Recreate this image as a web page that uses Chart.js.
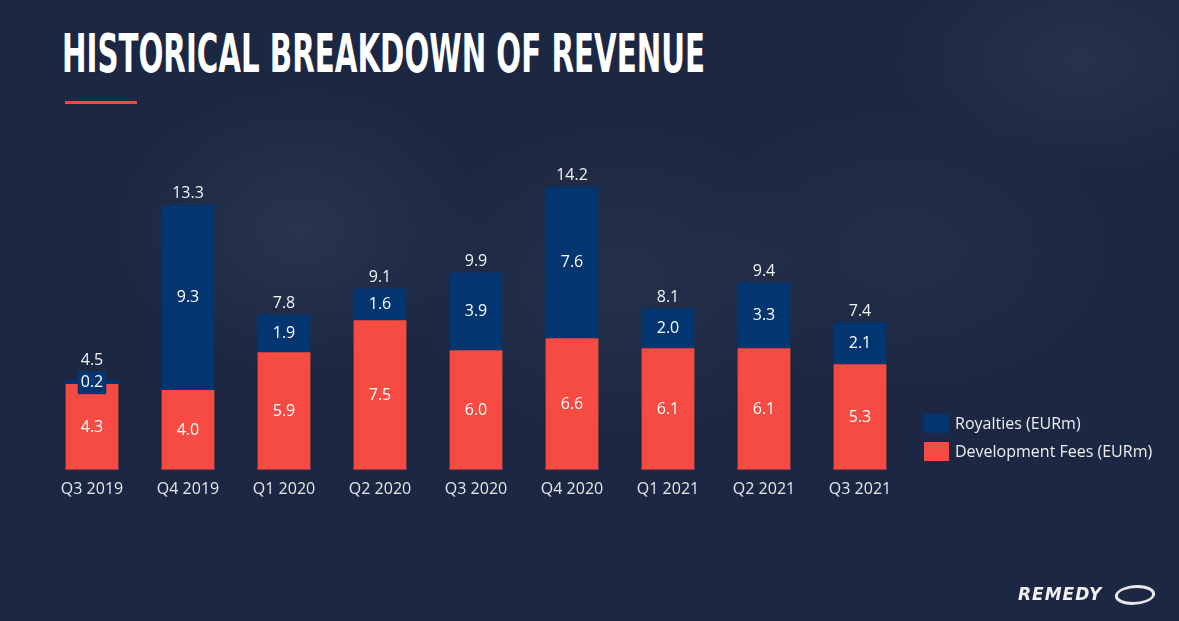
<!DOCTYPE html>
<html>
<head>
<meta charset="utf-8">
<script src="https://cdn.jsdelivr.net/npm/chart.js@4/dist/chart.umd.min.js"></script>
<style>
  html,body{margin:0;padding:0;}
  body{width:1179px;height:621px;overflow:hidden;position:relative;
    background:
      radial-gradient(ellipse 260px 200px at 300px 230px, rgba(70,82,105,0.30), rgba(0,0,0,0) 70%),
      radial-gradient(ellipse 300px 220px at 620px 280px, rgba(65,78,100,0.25), rgba(0,0,0,0) 70%),
      radial-gradient(ellipse 260px 160px at 1080px 60px, rgba(70,82,105,0.25), rgba(0,0,0,0) 70%),
      radial-gradient(ellipse 300px 200px at 900px 250px, rgba(60,72,95,0.22), rgba(0,0,0,0) 70%),
      #1c2743;}
  #title{position:absolute;left:62px;top:24px;color:#ffffff;
    font-family:"Liberation Sans Narrow","DejaVu Sans Condensed","Liberation Sans",sans-serif;
    font-weight:bold;font-size:53px;line-height:60px;white-space:nowrap;transform-origin:0 0;}
  #rule{position:absolute;left:65px;top:101px;width:72px;height:3px;background:#ef4a42;}
  #c{position:absolute;left:0;top:0;}
  #logo{position:absolute;left:1018px;top:584px;color:#f2f2f2;font-family:"DejaVu Sans",sans-serif;
    font-style:italic;font-weight:bold;font-size:17px;letter-spacing:1px;}
  #ring{position:absolute;left:1115px;top:585px;width:40px;height:20px;border:3px solid #e8e8e8;border-radius:50%;box-sizing:border-box;transform:skewX(-15deg);}
</style>
</head>
<body>
<div id="title">HISTORICAL BREAKDOWN OF REVENUE</div>
<div id="rule"></div>
<canvas id="c" width="1179" height="621"></canvas>
<div id="logo">REMEDY</div>
<div id="ring"></div>
<script>
const categories = ["Q3 2019","Q4 2019","Q1 2020","Q2 2020","Q3 2020","Q4 2020","Q1 2021","Q2 2021","Q3 2021"];
const developmentFees = [4.3,4.0,5.9,7.5,6.0,6.6,6.1,6.1,5.3];
const royalties = [0.2,9.3,1.9,1.6,3.9,7.6,2.0,3.3,2.1];
const totals = [4.5,13.3,7.8,9.1,9.9,14.2,8.1,9.4,7.4];
const seriesNames = ["Development Fees (EURm)","Royalties (EURm)"];

const RED = "#f64b42", BLUE = "#033570";
const FONT_FAMILY = '"Open Sans", "Noto Sans", sans-serif';
const LABEL_FONT = '16px ' + FONT_FAMILY;

(function(){
  const t = document.getElementById('title');
  const w = t.getBoundingClientRect().width;
  t.style.transform = 'scaleX(' + (643 / w) + ')';
})();

const labelPlugin = {
  id: 'valueLabels',
  afterDatasetsDraw(chart) {
    const ctx = chart.ctx;
    ctx.save();
    ctx.font = LABEL_FONT;
    ctx.textAlign = 'center';
    ctx.textBaseline = 'middle';
    chart.data.datasets.forEach((ds, di) => {
      const meta = chart.getDatasetMeta(di);
      meta.data.forEach((el, i) => {
        const txt = ds.data[i].toFixed(1);
        const cy = (el.y + el.base) / 2;
        const h = Math.abs(el.base - el.y);
        if (h < 20) {
          const w = ctx.measureText(txt).width + 6;
          ctx.fillStyle = ds.backgroundColor;
          ctx.fillRect(el.x - w / 2, cy - 11, w, 23);
        }
        ctx.fillStyle = '#ffffff';
        ctx.fillText(txt, el.x, cy);
      });
    });
    const topMeta = chart.getDatasetMeta(1);
    topMeta.data.forEach((el, i) => {
      const h = Math.abs(el.base - el.y);
      const extra = h < 20 ? 11 - h / 2 : 0;
      ctx.fillStyle = '#f2f2f2';
      ctx.fillText(totals[i].toFixed(1), el.x, el.y - 11 - extra);
    });
    const items = [{c: BLUE, t: seriesNames[1], y: 414}, {c: RED, t: seriesNames[0], y: 442}];
    ctx.textAlign = 'left';
    items.forEach(it => {
      ctx.fillStyle = it.c;
      ctx.fillRect(924, it.y, 25, 19);
      ctx.fillStyle = '#eeeeee';
      ctx.fillText(it.t, 955, it.y + 10);
    });
    ctx.restore();
  }
};

new Chart(document.getElementById('c'), {
  type: 'bar',
  data: {
    labels: categories,
    datasets: [
      {label: seriesNames[0], data: developmentFees, backgroundColor: RED, borderWidth: 0},
      {label: seriesNames[1], data: royalties, backgroundColor: BLUE, borderWidth: 0}
    ]
  },
  options: {
    responsive: false,
    animation: false,
    events: [],
    categoryPercentage: 1,
    barPercentage: 0.55,
    layout: {padding: {left: 44, right: 271, top: 151, bottom: 112}},
    plugins: {legend: {display: false}, tooltip: {enabled: false}},
    scales: {
      x: {
        stacked: true,
        grid: {display: false, drawTicks: false},
        border: {display: false},
        ticks: {color: '#e6e6e6', font: {family: FONT_FAMILY, size: 16}, padding: 10, maxRotation: 0}
      },
      y: {stacked: true, display: false, min: 0, max: 16}
    }
  },
  plugins: [labelPlugin]
});
</script>
</body>
</html>
